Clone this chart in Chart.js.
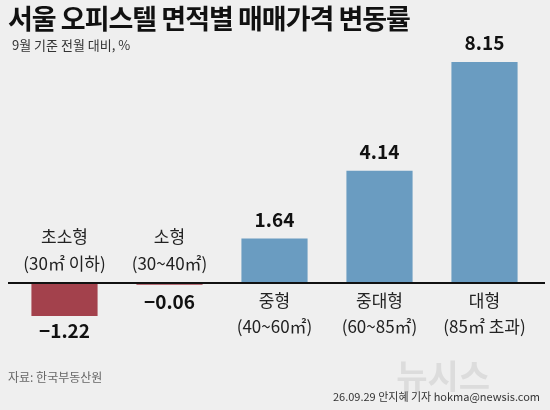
<!DOCTYPE html>
<html><head><meta charset="utf-8">
<script src="https://cdn.jsdelivr.net/npm/chart.js@4"></script>
<style>
body{margin:0;background:#efefef;font-family:"Noto Sans CJK KR",sans-serif;}
#wrap{position:relative;width:550px;height:410px;background:#efefef;overflow:hidden}
#title{position:absolute;left:8px;top:-2px;font-size:27px;font-weight:bold;color:#111;letter-spacing:-1px}
#sub{position:absolute;left:12px;top:35px;font-size:13px;color:#333}
#src{position:absolute;left:8px;top:368px;font-size:12px;color:#666}
#credit{position:absolute;right:10px;top:388px;font-size:11px;color:#333}
#mark{position:absolute;right:60px;top:350px;font-size:34px;font-weight:bold;color:#dcdcdc}
canvas{position:absolute;left:0;top:0}
</style></head><body>
<div id="wrap">
<canvas id="c" width="550" height="410"></canvas>
<div id="title">서울 오피스텔 면적별 매매가격 변동률</div>
<div id="sub">9월 기준 전월 대비, %</div>
<div id="src">자료: 한국부동산원</div>
<div id="mark">뉴시스</div>
<div id="credit">26.09.29 안지혜 기자 hokma@newsis.com</div>
</div>
<script>
const categories = ["초소형", "소형", "중형", "중대형", "대형"];
const subLabels = ["(30㎡ 이하)", "(30~40㎡)", "(40~60㎡)", "(60~85㎡)", "(85㎡ 초과)"];
const values = [-1.22, -0.06, 1.64, 4.14, 8.15];
const valueLabels = ["−1.22", "−0.06", "1.64", "4.14", "8.15"];

const labelPlugin = {
  id: "labels",
  afterDatasetsDraw(chart) {
    const ctx = chart.ctx;
    const y0 = chart.scales.y.getPixelForValue(0);
    ctx.save();
    ctx.strokeStyle = "#111";
    ctx.lineWidth = 2;
    ctx.beginPath(); ctx.moveTo(8, y0); ctx.lineTo(545, y0); ctx.stroke();
    ctx.textAlign = "center";
    ctx.textBaseline = "middle";
    chart.getDatasetMeta(0).data.forEach((bar, i) => {
      const v = values[i];
      ctx.fillStyle = "#111";
      ctx.font = "bold 19px 'Noto Sans CJK KR'";
      if (v >= 0) ctx.fillText(valueLabels[i], bar.x, bar.y - 19);
      else ctx.fillText(valueLabels[i], bar.x, Math.max(bar.y, y0 + 4) + 15);
      ctx.fillStyle = "#222";
      ctx.font = "17px 'Noto Sans CJK KR'";
      if (v >= 0) {
        ctx.fillText(categories[i], bar.x, y0 + 18);
        ctx.fillText(subLabels[i], bar.x, y0 + 44);
      } else {
        ctx.fillText(categories[i], bar.x, y0 - 46);
        ctx.fillText(subLabels[i], bar.x, y0 - 19);
      }
    });
    ctx.restore();
  }
};

new Chart(document.getElementById("c"), {
  type: "bar",
  data: {
    labels: categories,
    datasets: [{
      data: values,
      backgroundColor: values.map(v => v < 0 ? "#a3414c" : "#6a9cc1"),
      barPercentage: 0.63,
      categoryPercentage: 1
    }]
  },
  options: {
    responsive: false,
    animation: false,
    layout: { padding: { left: 12, right: 13, top: 39, bottom: 5 } },
    scales: {
      x: { display: false },
      y: { display: false, min: -4.5, max: 9 }
    },
    plugins: { legend: { display: false }, tooltip: { enabled: false } }
  },
  plugins: [labelPlugin]
});
</script>
</body></html>
